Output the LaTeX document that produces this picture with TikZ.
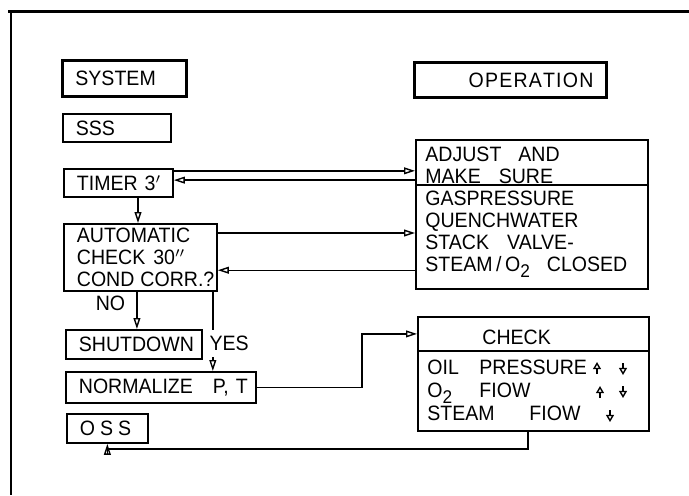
\documentclass[tikz,border=0pt]{standalone}
\usepackage{fontspec}
\setmainfont{Liberation Sans}[FakeStretch=0.94]
\usetikzlibrary{arrows.meta,positioning}
\newcommand{\Otwo}{O\raisebox{-2.8pt}{\fontsize{9.2}{9}\selectfont 2}}

\begin{document}
\begin{tikzpicture}[x=0.5pt,y=-0.5pt,
    font=\fontsize{10.4}{11}\selectfont,
    box/.style={draw, line width=0.9pt, rectangle, anchor=north west,
      inner ysep=0pt, inner xsep=6.5pt, align=left},
    headbox/.style={box, line width=1.4pt},
    panel/.style={draw, line width=0.9pt, rectangle, anchor=north west,
      inner sep=0pt},
    lines/.style={inner sep=0pt, anchor=north west, align=left},
    tag/.style={inner sep=1pt},
    flow/.style={line width=0.7pt,
      -{Triangle[open,length=5.5pt,width=3.4pt]}},
    tinyarr/.style={line width=0.7pt,
      -{Triangle[open,length=3.6pt,width=4pt]}},
    frame/.style={line width=1.4pt}]
  \useasboundingbox (0,0) rectangle (689,495);
  % frame
  \draw[frame] (8,11.7) -- (689,11.7);
  \draw[frame] (11,11.7) -- (11,495);

  % headings
  \node[headbox, text width=49pt, minimum height=18pt] (system) at (61,59) {SYSTEM};
  \node[headbox, text width=83pt, minimum height=17.5pt, align=right] (operation) at (413,61)
    {\mbox{O\hspace{0.6pt}P\hspace{0.6pt}E\hspace{0.6pt}R\hspace{0.6pt}A\hspace{0.6pt}T\hspace{0.6pt}I\hspace{0.6pt}O\hspace{0.6pt}N}};

  % system column
  \node[box, text width=41pt, minimum height=14pt] (sss) at (62,113) {SSS};
  \node[box, text width=41.5pt, minimum height=14pt] (timer) at (63,168) {\mbox{TIMER 3$'$}};
  \node[box, text width=63.5pt, minimum height=33.5pt] (auto) at (63,223)
    {AUTOMATIC\\\mbox{CHECK\hspace{4pt}30$''$}\\\mbox{COND\hspace{3pt}CORR.?}};
  \node[box, text width=55pt, minimum height=14.5pt] (shutdown) at (65,329) {SHUTDOWN};
  \node[box, text width=82pt, minimum height=15.5pt] (normalize) at (65,371)
    {\mbox{NORMALIZE\hspace{10pt}P, T}};
  \node[box, text width=27.5pt, minimum height=14.5pt] (oss) at (66,413)
    {\mbox{O\hspace{2.5pt}S\hspace{2.5pt}S}};

  % operation column
  \node[panel, minimum width=116pt, minimum height=22.5pt] (adjhead) at (415,139) {};
  \node[panel, minimum width=116pt, minimum height=52pt] (adjbody) at (415,184) {};
  \node[lines] (adjtxt) at (425,147) {ADJUST\hspace{8.5pt}AND\\MAKE\hspace{9pt}SURE};
  \node[lines] (gastxt) at (425,190.5)
    {GASPRESSURE\\QUENCHWATER\\STACK\hspace{9pt}VALVE-\\STEAM\,/\,\Otwo\hspace{8.5pt}CLOSED};

  \node[panel, minimum width=115.5pt, minimum height=17pt] (chkhead) at (417,316) {};
  \node[panel, minimum width=115.5pt, minimum height=40pt] (chkbody) at (417,350) {};
  \node[lines] (chktitle) at (482,329.5) {CHECK};
  \node[lines, font=\fontsize{10.4}{11.5}\selectfont] (chktxt) at (427,359.5)
    {\makebox[26pt][l]{OIL}PRESSURE\\\makebox[26pt][l]{\Otwo}FIOW\\\makebox[51pt][l]{STEAM}FIOW};
  \draw[tinyarr] (597,374) -- (597,362);
  \draw[tinyarr] (623,363) -- (623,375);
  \draw[tinyarr] (600,398) -- (600,386);
  \draw[tinyarr] (623,386) -- (623,398);
  \draw[tinyarr] (610,410) -- (610,422);

  % connectors
  \coordinate (t1) at ([yshift=-1.4pt]timer.north east);
  \coordinate (t2) at ([yshift=1.4pt]timer.east);
  \draw[flow] (t1) -- (t1 -| adjhead.west);
  \draw[flow] (t2 -| adjhead.west) -- (t2);
  \coordinate (t3) at ([xshift=9.8pt]timer.south);
  \draw[flow] (t3) -- (t3 |- auto.north);
  \coordinate (a1) at ([yshift=-5pt]auto.north east);
  \coordinate (a2) at ([yshift=10.8pt]auto.south east);
  \draw[flow] (a1) -- (a1 -| adjbody.west);
  \draw[flow] (a2 -| adjbody.west) -- (a2);
  \coordinate (n1) at ([xshift=-1.75pt]auto.south);
  \draw[flow] (n1) -- (n1 |- shutdown.north)
    node[tag, pos=0.31, left=4.5pt] (no) {NO};
  \coordinate (y1) at ([xshift=-2.5pt]auto.south east);
  \draw[flow] (y1) -- (y1 |- normalize.north)
    node[pos=0.654, anchor=west, xshift=-2pt, fill=white,
      inner xsep=0pt, inner ysep=3pt] (yes) {YES};
  \coordinate (bend1) at (362,0);
  \draw[flow] (normalize.east) -| (bend1 |- chkhead.west) -- (chkhead.west);
  \coordinate (ret) at (0,449);
  \draw[flow] ([xshift=-2.75pt]chkbody.south) |- (ret -| oss.south) -- (oss.south);
\end{tikzpicture}
\end{document}
